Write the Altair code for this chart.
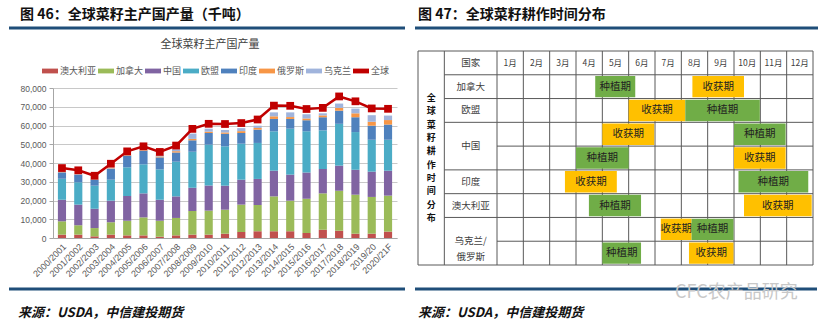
import altair as alt
import pandas as pd

# ---------------- data: rapeseed production (千吨) ----------------
seasons = ["2000/2001", "2001/2002", "2002/2003", "2003/2004", "2004/2005", "2005/2006",
           "2006/2007", "2007/2008", "2008/2009", "2009/2010", "2010/2011", "2011/2012",
           "2012/2013", "2013/2014", "2014/2015", "2015/2016", "2016/2017", "2017/2018",
           "2018/2019", "2019/20", "2020/21F"]
countries = ["澳大利亚", "加拿大", "中国", "欧盟", "印度", "俄罗斯", "乌克兰"]
world_name = "全球"
australia = [1800, 1800, 900, 1800, 1400, 1400, 700, 1400, 1800, 1800, 2300, 3200, 3600, 3600, 3600, 2700, 4400, 3900, 2300, 2300, 3400]
canada = [7100, 5000, 4400, 6600, 7800, 9600, 8500, 9300, 12600, 12800, 12800, 14600, 14000, 18600, 16300, 18300, 19400, 21300, 20800, 19600, 19200]
china = [11500, 11000, 10300, 11500, 13200, 12800, 11200, 11500, 12400, 13400, 12800, 13300, 13900, 13700, 13900, 14000, 13000, 13400, 13300, 13500, 13300]
eu = [11200, 11900, 12300, 11200, 15300, 15500, 16200, 18500, 19200, 21800, 21000, 19200, 19200, 21000, 24500, 21900, 20600, 22300, 20100, 17000, 16500]
india = [3400, 4100, 3200, 5900, 6200, 7300, 6400, 4900, 6100, 6200, 6700, 5700, 7100, 6600, 5200, 5900, 7000, 7000, 7900, 7500, 8100]
russia = [150, 110, 120, 200, 280, 300, 500, 700, 750, 700, 700, 1000, 900, 1400, 1000, 900, 1000, 1500, 2100, 2100, 2400]
ukraine = [130, 130, 60, 50, 150, 280, 600, 1000, 2850, 1600, 1300, 1600, 1200, 2100, 2500, 2300, 1100, 2300, 2500, 3500, 2400]
world = [37300, 36100, 33200, 39600, 46200, 48900, 45900, 49300, 58200, 60900, 60800, 61300, 63200,
         70600, 70500, 68800, 69400, 75500, 72900, 69100, 68900]
y_ticks = [0, 10000, 20000, 30000, 40000, 50000, 60000, 70000, 80000]

# ---------------- data: planting / harvest calendar ----------------
months = ["1月", "2月", "3月", "4月", "5月", "6月", "7月", "8月", "9月", "10月", "11月", "12月"]
header_label = "国家"
row_labels = ["加拿大", "欧盟", "中国", "中国", "印度", "澳大利亚", "乌克兰/\n俄罗斯", "乌克兰/\n俄罗斯"]
side_title = "全球菜籽耕作时间分布"
phases = ["种植期", "收获期"]
gantt_row = [1, 1, 2, 2, 3, 3, 4, 4, 5, 5, 6, 6, 7, 7, 8, 8]
gantt_phase = ["种植期", "收获期", "收获期", "种植期", "收获期", "种植期", "种植期", "收获期",
               "收获期", "种植期", "种植期", "收获期", "收获期", "种植期", "种植期", "收获期"]
gantt_start = [3.73, 7.42, 5.0, 7.15, 4.0, 9.0, 3.0, 9.0, 2.58, 9.17, 3.49, 9.38, 6.22, 7.39, 4.0, 7.29]
gantt_end = [5.25, 9.38, 7.15, 9.98, 5.97, 10.96, 5.0, 10.96, 4.55, 11.82, 5.47, 11.95, 7.39, 8.98, 5.47, 8.98]

# ---------------- texts ----------------
left_header = "图 46：全球菜籽主产国产量（千吨）"
right_header = "图 47：全球菜籽耕作时间分布"
chart_title = "全球菜籽主产国产量"
source_text = "来源：USDA，中信建投期货"
watermark = "CFC农产品研究"

# ---------------- styles ----------------
FONT = "Noto Sans CJK SC"
NUM = "Liberation Sans"
BLUE = "#1F4E79"
bar_colors = ["#C0504D", "#9BBB59", "#8064A2", "#4BACC6", "#4F81BD", "#F79646", "#A0B4DC"]
world_color = "#C00000"
phase_colors = ["#70AD47", "#FFC000"]
L_W, L_H = 344, 187
R_W, R_H = 395, 214
SYM_RECT = "M-1,-0.3H1V0.3H-1Z"
SYM_LINE = "M-1,0H1M-0.38,-0.38H0.38V0.38H-0.38Z"


def decor_text(text, x, y, size, weight="normal", color="#111111", style="normal", align="left", font=FONT):
    return alt.Chart(pd.DataFrame({"t": [text]})).mark_text(
        align=align, baseline="middle", font=font, fontSize=size, fontWeight=weight,
        fontStyle=style, color=color
    ).encode(x=alt.value(x), y=alt.value(y), text="t:N")


def decor_rule(x1, x2, y, color=BLUE, w=3):
    return alt.Chart(pd.DataFrame({"a": [0]})).mark_rule(color=color, strokeWidth=w).encode(
        x=alt.value(x1), x2=alt.value(x2), y=alt.value(y))


def bound_box(x, y):
    return alt.Chart(pd.DataFrame({"a": [0]})).mark_rect(color="white").encode(
        x=alt.value(x), x2=alt.value(x + 1), y=alt.value(y), y2=alt.value(y + 1))


def build(use_encode):
    # ---------- left panel ----------
    recs = []
    for ci, vals in enumerate([australia, canada, china, eu, india, russia, ukraine]):
        for s, v in zip(seasons, vals):
            recs.append({"season": s, "country": countries[ci], "value": v, "ord": ci})
    prod = pd.DataFrame(recs)
    world_df = pd.DataFrame({"season": seasons, "total": world})

    xscale = alt.Scale(domain=seasons, paddingInner=0.5, paddingOuter=0.3)
    yscale = alt.Scale(domain=[0, 80000], range=[L_H, 37], nice=False)

    x_axis = alt.Axis(title=None, labelAngle=-45, labelFont=NUM, labelFontSize=9,
                      labelColor="#595959", domainColor="#A6A6A6", ticks=False, labelPadding=4)
    y_axis = alt.Axis(title=None, values=y_ticks, format=",d", labelFont=NUM, labelFontSize=8.5,
                      labelColor="#595959", domainColor="#A6A6A6", tickColor="#A6A6A6",
                      tickSize=4, gridColor="#C8C8C8", labelPadding=3, labelOverlap=False)

    leg_kw = dict(title=None, orient="none", legendX=-11, legendY=12, direction="horizontal",
                  columns=8, symbolType=SYM_RECT, symbolSize=256, symbolStrokeWidth=0,
                  labelFont=FONT, labelFontSize=9, labelColor="#595959", columnPadding=1,
                  labelOffset=2)
    if use_encode:
        test = "datum.value === '全球'"
        leg_kw["encode"] = {"symbols": {
            "shape": {"condition": {"test": test, "value": SYM_LINE}, "value": SYM_RECT},
            "stroke": {"condition": {"test": test, "value": world_color}, "value": "transparent"},
            "strokeWidth": {"condition": {"test": test, "value": 2}, "value": 0},
        }}

    bars = alt.Chart(prod).mark_bar().encode(
        x=alt.X("season:N", sort=seasons, scale=xscale, axis=x_axis),
        y=alt.Y("value:Q", stack="zero", scale=yscale, axis=y_axis),
        color=alt.Color("country:N", scale=alt.Scale(domain=countries + [world_name],
                                                      range=bar_colors + [world_color]),
                        legend=alt.Legend(**leg_kw)),
        order=alt.Order("ord:Q", sort="ascending"),
    )
    line = alt.Chart(world_df).mark_line(color=world_color, strokeWidth=2.5).encode(
        x=alt.X("season:N", sort=seasons, scale=xscale, axis=x_axis),
        y=alt.Y("total:Q", scale=yscale, axis=y_axis),
    )
    pts = alt.Chart(world_df).mark_point(shape="square", filled=True, size=60, color=world_color,
                                         opacity=1).encode(
        x=alt.X("season:N", sort=seasons, scale=xscale, axis=x_axis),
        y=alt.Y("total:Q", scale=yscale, axis=y_axis),
    )

    left = alt.layer(
        bars, line, pts,
        decor_text(chart_title, 157, -6, 11, color="#404040", align="center"),
        decor_text(left_header, -33, -36, 14, weight="bold"),
        decor_rule(-44, 352, -23),
        decor_rule(-44, 352, 238),
        decor_text(source_text, -35, 262, 13, weight="bold", style="italic"),
        bound_box(-53, -51),
    ).properties(width=L_W, height=L_H)

    # ---------- right panel (table) ----------
    xs = alt.Scale(domain=[-3, 12], range=[0, R_W], nice=False, zero=False)
    ys = alt.Scale(domain=[0, 9], range=[0, R_H], nice=False, zero=False)
    n_rows = len(row_labels) + 1

    g = []
    for xv in [-3, -2] + list(range(0, len(months) + 1)):
        g.append({"x": xv, "x2": xv, "y": 0, "y2": n_rows})
    g.append({"x": -3, "x2": 12, "y": 0, "y2": 0})
    g.append({"x": -3, "x2": 12, "y": n_rows, "y2": n_rows})
    all_labels = [header_label] + row_labels
    for k in range(1, n_rows):
        start = -2 if all_labels[k] != all_labels[k - 1] else 0
        g.append({"x": start, "x2": 12, "y": k, "y2": k})
    grid_df = pd.DataFrame(g)

    grid = alt.Chart(grid_df).mark_rule(color="#595959", strokeWidth=1).encode(
        x=alt.X("x:Q", scale=xs, axis=None), x2="x2:Q",
        y=alt.Y("y:Q", scale=ys, axis=None), y2="y2:Q")

    gdf = pd.DataFrame({"row": gantt_row, "phase": gantt_phase, "start": gantt_start, "end": gantt_end})
    gdf["y0"] = gdf["row"] + 0.05
    gdf["y1"] = gdf["row"] + 0.95
    gdf["xm"] = (gdf["start"] + gdf["end"]) / 2
    gdf["ym"] = gdf["row"] + 0.5

    gbars = alt.Chart(gdf).mark_rect().encode(
        x=alt.X("start:Q", scale=xs, axis=None), x2="end:Q",
        y=alt.Y("y0:Q", scale=ys, axis=None), y2="y1:Q",
        fill=alt.Fill("phase:N", scale=alt.Scale(domain=phases, range=phase_colors), legend=None))
    gtext = alt.Chart(gdf).mark_text(font=FONT, fontSize=10.5, color="#222222", baseline="middle").encode(
        x=alt.X("xm:Q", scale=xs, axis=None), y=alt.Y("ym:Q", scale=ys, axis=None), text="phase:N")

    mdf = pd.DataFrame({"t": months, "x": [i + 0.5 for i in range(len(months))], "y": [0.5] * len(months)})
    mtext = alt.Chart(mdf).mark_text(font=FONT, fontSize=8.5, color="#404040", baseline="middle").encode(
        x=alt.X("x:Q", scale=xs, axis=None), y=alt.Y("y:Q", scale=ys, axis=None), text="t:N")

    crec = []
    k = 0
    while k < len(all_labels):
        j = k
        while j + 1 < len(all_labels) and all_labels[j + 1] == all_labels[k]:
            j += 1
        crec.append({"t": all_labels[k], "x": -1.0, "y": (k + j + 1) / 2})
        k = j + 1
    cdf = pd.DataFrame(crec)
    ctext = alt.Chart(cdf).mark_text(font=FONT, fontSize=9.5, color="#404040", baseline="middle",
                                     lineBreak="\n", lineHeight=16).encode(
        x=alt.X("x:Q", scale=xs, axis=None), y=alt.Y("y:Q", scale=ys, axis=None), text="t:N")

    # vertical side title, one character per datum
    nchar = len(side_title)
    step = 0.56
    sdf = pd.DataFrame({"t": list(side_title), "x": [-2.5] * nchar,
                        "y": [n_rows / 2 + (i - (nchar - 1) / 2) * step for i in range(nchar)]})
    stext = alt.Chart(sdf).mark_text(font=FONT, fontSize=9, fontWeight="bold", color="#111111",
                                     baseline="middle").encode(
        x=alt.X("x:Q", scale=xs, axis=None), y=alt.Y("y:Q", scale=ys, axis=None), text="t:N")

    right = alt.layer(
        grid, gbars, gtext, mtext, ctext, stext,
        decor_text(right_header, 0, -36, 14, weight="bold"),
        decor_rule(-3, 400, -23),
        decor_rule(-3, 399, 238),
        decor_text(source_text, 0, 262, 13, weight="bold", style="italic"),
        decor_text(watermark, 257, 242, 18, color="#C8C8C8"),
        bound_box(420, 277),
    ).properties(width=R_W, height=R_H)

    chart = alt.hconcat(left, right, spacing=21, bounds="flush").resolve_scale(
        color="independent", fill="independent"
    ).properties(
        padding=0, background="white"
    ).configure(font=FONT).configure_view(strokeWidth=0)
    return chart


try:
    chart = build(True)
    chart.save("out.html", embed_options={"renderer": "svg", "actions": False})
except Exception:
    chart = build(False)
    chart.save("out.html", embed_options={"renderer": "svg", "actions": False})
